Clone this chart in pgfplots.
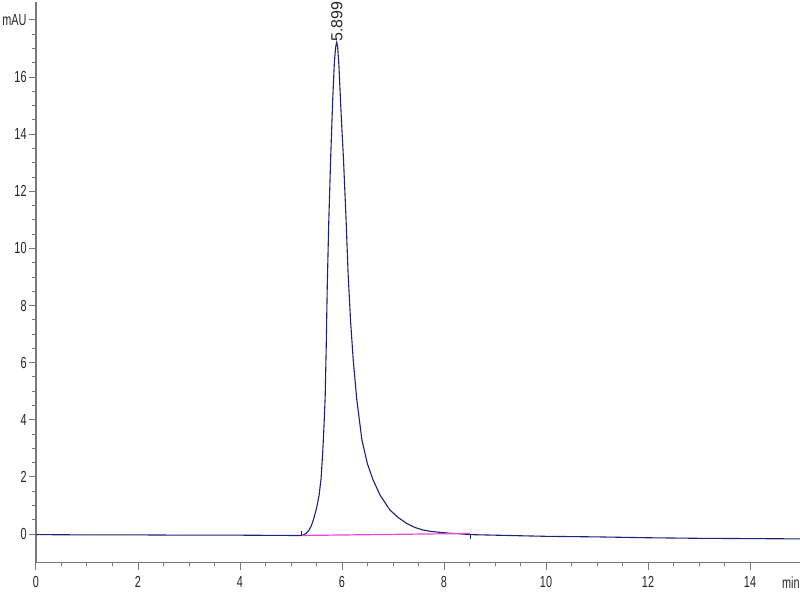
\documentclass[border=0pt]{standalone}
\usepackage{fontspec}
\setmainfont{Liberation Sans}
\newfontfamily\tickfont[FakeStretch=0.68]{Liberation Sans}
\usepackage{pgfplots}
\pgfplotsset{compat=1.18}
\definecolor{sig}{RGB}{32,32,120}
\definecolor{base}{RGB}{235,70,220}
\definecolor{axgray}{RGB}{120,120,120}
\begin{document}
\begin{tikzpicture}
\useasboundingbox (-18pt,-18.7pt) rectangle (382pt,281.3pt);
\begin{axis}[
  scale only axis,
  width=382pt, height=280.3pt,
  xmin=0, xmax=14.98, ymin=-1, ymax=18.63,
  axis x line=bottom, axis y line=left,
  axis line style={-, draw=axgray, line width=0.8pt},
  xtick={0,2,...,14}, xticklabels={0,2,4,6,8,10,12,14},
  ytick={0,2,...,18}, yticklabels={0,2,4,6,8,10,12,14,16,mAU},
  minor x tick num=3, minor y tick num=3,
  tick align=outside,
  major tick length=3.5pt, minor tick length=1.75pt,
  every tick/.style={draw=axgray, line width=0.5pt},
  tick label style={font=\tickfont\fontsize{8}{9}\selectfont, text=black!85},
  yticklabel style={inner sep=1pt},
  clip=false,
]
\addplot[sig, line width=0.55pt] coordinates {
(0,-0.02) (1,-0.03) (2,-0.03) (3,-0.04) (4,-0.04) (5,-0.05) (5.20,-0.05)
(5.235,-0.04) (5.30,0.03) (5.36,0.15) (5.40,0.30) (5.44,0.50) (5.50,0.90)
(5.55,1.35) (5.59,1.95) (5.62,2.8) (5.645,3.7) (5.67,4.8) (5.69,6.5)
(5.71,8.6) (5.74,10.9) (5.78,13.3) (5.82,15.3) (5.85,16.5) (5.875,17.05)
(5.896,17.22) (5.915,17.05) (5.94,16.4) (5.97,15.2) (6.00,14.1) (6.03,13.1)
(6.08,11.0) (6.12,9.1) (6.17,7.4) (6.22,6.1) (6.29,4.7) (6.39,3.3)
(6.50,2.45) (6.61,1.89) (6.75,1.35) (6.94,0.84) (7.10,0.58) (7.27,0.37)
(7.43,0.23) (7.59,0.14) (7.75,0.09) (7.92,0.06) (8.10,0.03) (8.30,0.01)
(8.51,-0.02) (9.0,-0.04) (10,-0.08) (11,-0.10) (12,-0.13) (13,-0.15)
(14,-0.16) (14.98,-0.17)
};
\addplot[base, line width=0.6pt] coordinates {(5.22,-0.05) (8.51,0.02)};
\addplot[sig, line width=0.4pt] coordinates {(5.20,-0.06) (5.20,0.09)};
\addplot[sig, line width=0.4pt] coordinates {(8.51,0.01) (8.51,-0.18)};
\node[rotate=90, anchor=west, inner sep=0.5pt, font=\fontsize{8}{9}\selectfont, text=black!85] at (axis cs:5.899,17.2) {5.899};
\node[anchor=north east, inner sep=0pt, font=\tickfont\fontsize{8}{9}\selectfont, text=black!85] at (rel axis cs:1,0) [yshift=-7pt] {min};
\end{axis}
\end{tikzpicture}
\end{document}
